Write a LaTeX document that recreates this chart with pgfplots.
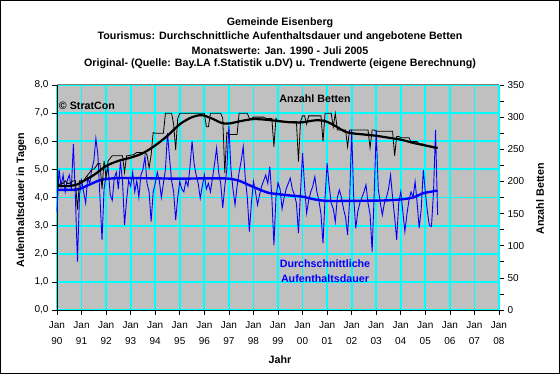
\documentclass[border=0pt]{standalone}
\usepackage{pgfplots}
\pgfplotsset{compat=1.18}
\usepackage{pgfplotstable}
\usepackage{fontspec}
\setmainfont{Liberation Sans}
\definecolor{bggray}{RGB}{192,192,192}
\definecolor{gridcyan}{RGB}{0,255,255}
\definecolor{xlblue}{RGB}{0,0,255}
\definecolor{topgray}{RGB}{128,128,128}

\pgfplotstableread{
yr m beds dur
1990 1 195 3.5
1990 2 195 5.0
1990 3 197 4.4
1990 4 197 4.8
1990 5 201 4.2
1990 6 197 4.6
1990 7 197 4.8
1990 8 199 4.3
1990 9 201 5.9
1990 10 201 4.0
1990 11 156 1.72
1990 12 201 4.1
1991 1 201 4.6
1991 2 201 4.2
1991 3 206 3.8
1991 4 210 4.7
1991 5 214 4.5
1991 6 219 5.0
1991 7 219 5.3
1991 8 223 6.1
1991 9 228 5.5
1991 10 228 4.0
1991 11 188 2.49
1991 12 232 4.3
1992 1 206 4.8
1992 2 232 5.05
1992 3 236 4.1
1992 4 240 3.9
1992 5 240 4.7
1992 6 240 4.9
1992 7 240 4.3
1992 8 240 5.28
1992 9 240 4.6
1992 10 214 3.02
1992 11 240 3.9
1992 12 240 4.6
1993 1 241 4.4
1993 2 241 4.9
1993 3 243 4.2
1993 4 245 4.6
1993 5 245 4.0
1993 6 245 4.8
1993 7 245 5.0
1993 8 245 5.46
1993 9 241 4.5
1993 10 221 4.2
1993 11 241 3.14
1993 12 276 4.2
1994 1 275 4.5
1994 2 275 4.9
1994 3 275 4.6
1994 4 275 4.0
1994 5 275 4.5
1994 6 306 5.0
1994 7 306 6.29
1994 8 306 5.4
1994 9 306 4.6
1994 10 289 4.2
1994 11 249 3.2
1994 12 298 4.0
1995 1 306 4.57
1995 2 306 4.3
1995 3 306 4.2
1995 4 306 4.6
1995 5 306 4.4
1995 6 306 5.1
1995 7 306 6.0
1995 8 306 5.2
1995 9 306 4.8
1995 10 306 4.5
1995 11 306 3.97
1995 12 306 4.4
1996 1 306 4.8
1996 2 285 4.3
1996 3 285 4.5
1996 4 306 4.2
1996 5 306 4.7
1996 6 306 5.2
1996 7 306 5.76
1996 8 306 4.9
1996 9 306 4.5
1996 10 298 3.63
1996 11 213 4.4
1996 12 276 5.0
1997 1 273 6.55
1997 2 273 5.0
1997 3 273 4.3
1997 4 273 3.74
1997 5 273 4.4
1997 6 306 4.9
1997 7 306 5.3
1997 8 306 5.81
1997 9 306 4.7
1997 10 306 4.0
1997 11 298 2.79
1997 12 298 3.8
1998 1 300 4.57
1998 2 300 4.2
1998 3 300 3.74
1998 4 300 4.1
1998 5 300 4.4
1998 6 300 4.6
1998 7 298 4.8
1998 8 298 4.5
1998 9 298 5.1
1998 10 298 4.0
1998 11 254 2.31
1998 12 298 4.0
1999 1 293 4.52
1999 2 293 4.3
1999 3 293 3.6
1999 4 293 4.0
1999 5 293 4.3
1999 6 293 4.5
1999 7 293 4.69
1999 8 293 4.3
1999 9 293 4.1
1999 10 293 3.8
1999 11 231 2.73
1999 12 293 4.2
2000 1 302 5.58
2000 2 302 4.4
2000 3 289 3.44
2000 4 302 3.9
2000 5 302 4.2
2000 6 302 4.4
2000 7 302 4.74
2000 8 302 4.2
2000 9 302 3.9
2000 10 302 3.4
2000 11 262 2.37
2000 12 306 4.0
2001 1 306 5.22
2001 2 306 4.4
2001 3 306 3.8
2001 4 285 3.6
2001 5 306 3.14
2001 6 280 4.0
2001 7 280 4.27
2001 8 280 4.0
2001 9 280 3.6
2001 10 280 3.3
2001 11 254 2.67
2001 12 280 3.9
2002 1 280 6.4
2002 2 280 4.0
2002 3 280 2.9
2002 4 280 3.5
2002 5 280 3.8
2002 6 280 4.0
2002 7 280 4.2
2002 8 280 4.45
2002 9 280 3.8
2002 10 252 3.4
2002 11 280 2.08
2002 12 280 4.1
2003 1 278 6.4
2003 2 278 4.3
2003 3 278 3.8
2003 4 278 3.38
2003 5 278 3.8
2003 6 278 4.0
2003 7 278 4.3
2003 8 278 4.8
2003 9 278 4.0
2003 10 240 3.3
2003 11 270 2.49
2003 12 270 3.8
2004 1 268 4.21
2004 2 268 3.5
2004 3 268 2.79
2004 4 268 3.4
2004 5 268 3.9
2004 6 262 4.2
2004 7 262 4.0
2004 8 262 4.57
2004 9 262 3.8
2004 10 258 2.91
2004 11 258 3.6
2004 12 258 4.98
2005 1 255 4.2
2005 2 255 3.5
2005 3 254 3.0
2005 4 253 2.97
2005 5 252 4.2
2005 6 252 6.4
2005 7 252 3.38
}\data

\begin{document}
\begin{tikzpicture}[x=1pt,y=1pt]
\useasboundingbox (0,0) rectangle (560,374);
\fill[white] (0,0) rectangle (560,374);
\draw[black, line width=1pt] (0.5,0.5) rectangle (559.5,373.5);

% titles
\node[font=\fontsize{10.7}{12}\selectfont\bfseries] at (280,351) {Gemeinde Eisenberg};
\node[font=\fontsize{10.7}{12}\selectfont\bfseries] at (280,337) {Tourismus: Durchschnittliche Aufenthaltsdauer und angebotene Betten};
\node[font=\fontsize{10.7}{12}\selectfont\bfseries] at (280,323.5) {Monatswerte: Jan. 1990 - Juli 2005};
\node[font=\fontsize{10.7}{12}\selectfont\bfseries] at (280,310) {Original- (Quelle: Bay.LA f.Statistik u.DV) u. Trendwerte (eigene Berechnung)};

\begin{axis}[
  at={(57pt,64pt)}, anchor=south west,
  scale only axis, width=442pt, height=225pt,
  xmin=1990, xmax=2008, ymin=0, ymax=8,
  axis background/.style={fill=bggray},
  axis x line*=bottom, axis y line*=left,
  axis line style={black, line width=0.9pt},
  xtick={1990,...,2008},
  xticklabels={{Jan\\90},{Jan\\91},{Jan\\92},{Jan\\93},{Jan\\94},{Jan\\95},{Jan\\96},{Jan\\97},{Jan\\98},{Jan\\99},{Jan\\00},{Jan\\01},{Jan\\02},{Jan\\03},{Jan\\04},{Jan\\05},{Jan\\06},{Jan\\07},{Jan\\08}},
  xticklabel style={align=center, font=\fontsize{10}{16.5}\selectfont, yshift=-3pt},
  minor x tick num=11,
  ytick={0,1,...,8},
  yticklabel style={font=\fontsize{10}{12}\selectfont},
  /pgf/number format/.cd, fixed, fixed zerofill, precision=1, use comma, assume math mode=true,
  /pgfplots/.cd,
  tick align=outside,
  major tick length=5pt, minor tick length=2pt,
  tick style={black, line width=0.7pt},
  xmajorgrids, ymajorgrids,
  major grid style={gridcyan, line width=1.8pt},
  clip=false,
]
\draw[topgray, line width=1pt] (rel axis cs:0,1) -- (rel axis cs:1,1);
\addplot[xlblue, line width=0.9pt, mark=none] table[x expr=\thisrow{yr}+(\thisrow{m}-1)/12, y=dur] {\data};
\addplot[xlblue, line width=2.4pt, mark=none, smooth] coordinates {
(1990.0,4.27) (1990.5,4.27) (1990.9,4.30) (1991.3,4.45) (1991.7,4.60) (1992.0,4.66) (1992.5,4.69) (1993.0,4.69) (1994.0,4.68) (1995.0,4.67) (1996.0,4.68) (1996.5,4.68) (1997.0,4.67) (1997.4,4.60) (1997.8,4.45) (1998.2,4.30) (1998.6,4.17) (1999.0,4.12) (1999.5,4.07) (2000.0,4.03) (2000.5,3.93) (2001.0,3.88) (2002.0,3.88) (2003.0,3.89) (2003.5,3.90) (2004.0,3.93) (2004.5,4.00) (2004.9,4.15) (2005.2,4.20) (2005.5,4.25)};
\end{axis}

\begin{axis}[
  at={(57pt,64pt)}, anchor=south west,
  scale only axis, width=442pt, height=225pt,
  xmin=1990, xmax=2008, ymin=0, ymax=350,
  axis x line=none, axis y line*=right,
  axis line style={gridcyan, line width=1.8pt},
  ytick={0,50,...,350},
  minor y tick num=1,
  yticklabel style={font=\fontsize{10}{12}\selectfont},
  /pgf/number format/assume math mode=true,
  tick align=outside,
  major tick length=5pt, minor tick length=5pt,
  tick style={black, line width=0.7pt},
]
\addplot[black, line width=0.8pt, mark=none] table[x expr=\thisrow{yr}+(\thisrow{m}-1)/12, y=beds] {\data};
\addplot[black, line width=2.2pt, mark=none, smooth] coordinates {
(1990.0,193) (1990.5,193) (1990.8,195) (1991.0,199) (1991.5,210) (1992.0,224) (1992.5,232) (1993.0,237) (1993.5,244) (1994.0,256) (1994.5,271) (1995.0,289) (1995.5,300) (1995.9,303) (1996.3,298) (1996.7,291) (1997.0,290) (1997.5,294) (1998.0,297) (1998.5,296) (1999.0,294) (1999.5,292) (2000.0,292) (2000.5,295) (2000.9,294) (2001.3,287) (2001.7,278) (2002.0,275) (2002.5,273) (2003.0,271) (2003.5,268) (2004.0,265) (2004.5,260) (2005.0,256) (2005.5,252)};
\end{axis}

% labels
\node[font=\fontsize{10.7}{12}\selectfont\bfseries] at (87,268) {© StratCon};
\node[font=\fontsize{10.7}{12}\selectfont\bfseries] at (315,275) {Anzahl Betten};
\node[font=\fontsize{10.7}{15}\selectfont\bfseries, text=xlblue, align=center] at (325,102.5) {Durchschnittliche\\Aufenthaltsdauer};
\node[font=\fontsize{10.7}{12}\selectfont\bfseries, rotate=90] at (21.5,174) {Aufenthaltsdauer in Tagen};
\node[font=\fontsize{10.7}{12}\selectfont\bfseries, rotate=90] at (540,175) {Anzahl Betten};
\node[font=\fontsize{10.7}{12}\selectfont\bfseries] at (280,14) {Jahr};
\end{tikzpicture}
\end{document}
